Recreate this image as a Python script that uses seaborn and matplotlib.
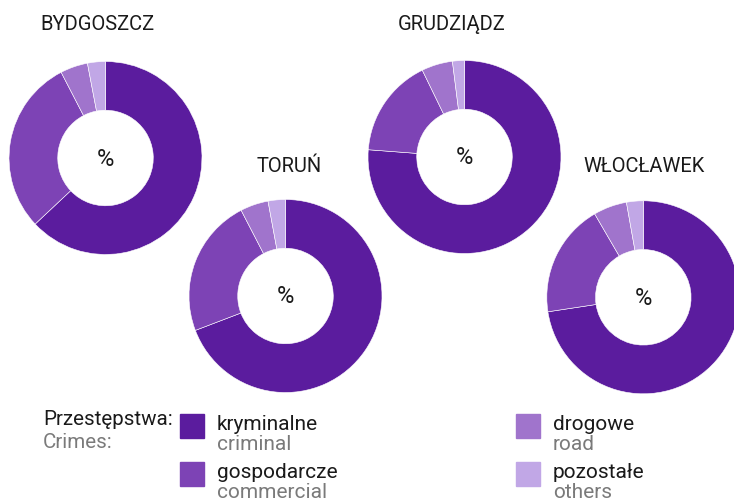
import matplotlib
matplotlib.use("Agg")
import matplotlib.pyplot as plt
import seaborn as sns

# =========================
# DATA (shares in %)
# =========================
cities = ["BYDGOSZCZ", "GRUDZIĄDZ", "TORUŃ", "WŁOCŁAWEK"]
kryminalne = [63.0, 76.2, 69.2, 72.6]
gospodarcze = [29.4, 16.6, 23.2, 19.0]
drogowe = [4.6, 5.2, 4.7, 5.6]
pozostale = [3.0, 2.0, 2.9, 2.8]

labels_pl = ["kryminalne", "gospodarcze", "drogowe", "pozostałe"]
labels_en = ["criminal", "commercial", "road", "others"]

colors = ["#5b1c9e", "#7d43b5", "#a074cc", "#c1a7e6"]

# =========================
# STYLE
# =========================
sns.set_theme(style="white")
plt.rcParams["font.family"] = ["Roboto", "DejaVu Sans"]

W, H = 734, 502
fig = plt.figure(figsize=(W / 100, H / 100), dpi=100)

# donut centres (pixels) and radius
centres = [(105.5, 159), (464.5, 158), (285.5, 297), (643.3, 298.3)]
R = 96.5
# title anchors (left, baseline) in pixels
title_pos = [(40, 30), (398, 30), (257, 172), (583, 172)]


def fx(x):
    return x / W


def fy(y):
    return 1 - y / H


for i, city in enumerate(cities):
    cx, cy = centres[i]
    ax = fig.add_axes([fx(cx - R), fy(cy + R), 2 * R / W, 2 * R / H])
    values = [kryminalne[i], gospodarcze[i], drogowe[i], pozostale[i]]
    ax.pie(values, colors=colors, startangle=90, counterclock=False,
           radius=1, wedgeprops=dict(width=0.505, edgecolor="white", linewidth=0.4))
    ax.set_xlim(-1, 1)
    ax.set_ylim(-1, 1)
    ax.set_aspect("equal")
    ax.axis("off")
    ax.text(0, 0, "%", ha="center", va="center", fontsize=17, color="#1a1a1a")
    tx, ty = title_pos[i]
    fig.text(fx(tx), fy(ty), city, ha="left", va="baseline", fontsize=14.5, color="#1a1a1a")

# =========================
# LEGEND
# =========================
fig.text(fx(43), fy(425), "Przestępstwa:", ha="left", va="baseline", fontsize=14.8, color="#1a1a1a")
fig.text(fx(43), fy(448), "Crimes:", ha="left", va="baseline", fontsize=14.8, color="#7a7a7a")

legend_pos = [(180, 415), (180, 463), (516, 415), (516, 463)]
for i in range(4):
    sx, sy = legend_pos[i]
    fig.patches.append(plt.Rectangle((fx(sx), fy(sy + 24)), 24 / W, 24 / H,
                                     transform=fig.transFigure, color=colors[i]))
    fig.text(fx(sx + 37), fy(sy + 15), labels_pl[i], ha="left", va="baseline",
             fontsize=15, color="#1a1a1a")
    fig.text(fx(sx + 37), fy(sy + 35.5), labels_en[i], ha="left", va="baseline",
             fontsize=15, color="#7a7a7a")

plt.savefig("out.png", dpi=100)
